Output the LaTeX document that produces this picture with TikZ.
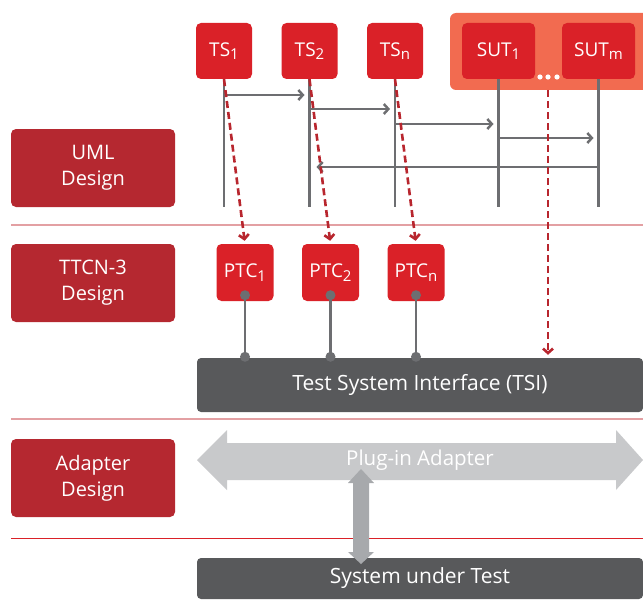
\documentclass[tikz,border=0pt]{standalone}
\usepackage{fontspec}
\setmainfont{Open Sans}
\usetikzlibrary{arrows.meta,calc}
\definecolor{TRed}{HTML}{DA2128}
\definecolor{LRed}{HTML}{B52830}
\definecolor{DRed}{HTML}{B8262E}
\definecolor{SutBg}{HTML}{F26B50}
\definecolor{SepRed}{HTML}{E3A0A3}
\definecolor{LineGray}{HTML}{6D6E71}
\definecolor{BarGray}{HTML}{58595B}
\definecolor{PaleGray}{HTML}{C8C9CB}
\definecolor{MidGray}{HTML}{A7A9AC}
\newcommand{\lowidx}[1]{\raisebox{-0.35ex}{\fontsize{15}{15}\selectfont #1}}
\tikzset{
    comp/.style = {rectangle, rounded corners=5pt, fill=TRed, text=white,
        minimum width=56pt, minimum height=56pt, inner sep=0pt,
        font=\fontsize{19}{22}\selectfont},
    sutcomp/.style = {comp, minimum width=73pt},
    phase/.style = {rectangle, rounded corners=5pt, fill=LRed, text=white,
        minimum width=164pt, minimum height=78pt, align=center,
        font=\fontsize{20}{26}\selectfont},
    bar/.style = {rectangle, rounded corners=4pt, fill=BarGray, text=white,
        minimum width=446pt, inner sep=0pt, font=\fontsize{21}{24}\selectfont},
    life/.style = {draw=LineGray, line width=2.8pt},
    msg/.style = {draw=LineGray, line width=2.5pt, shorten >=5pt,
        -{Straight Barb[length=4.5pt,width=10pt]}},
    map/.style = {draw=DRed, line width=2.6pt, dash pattern=on 7pt off 4pt,
        shorten >=3pt, -{Straight Barb[length=4.5pt,width=10pt]}},
    sep/.style = {draw=SepRed, line width=1.4pt},
    link/.style = {draw=LineGray, line width=2.8pt}
}

\begin{document}
\begin{tikzpicture}[x=1pt,y=-1pt]
    \useasboundingbox (0,0) rectangle (643,610);
    % phases
    \node[phase] (uml) at (93,168) {UML\\Design};
    \node[phase] (ttcn) at (93,283) {TTCN-3\\Design};
    \node[phase] (adapt) at (93,478) {Adapter\\Design};
    \draw[sep] (11,225) -- (643,225);
    \draw[sep] (11,419) -- (643,419);
    \draw[sep, draw=TRed, line width=1pt] (11,538) -- (643,538);
    % test components and SUT
    \fill[SutBg, rounded corners=6pt] (450,13) rectangle (650,90);
    \node[comp] (ts1) at (224,51) {TS\lowidx{1}};
    \node[comp] (ts2) at (309.5,51) {TS\lowidx{2}};
    \node[comp] (tsn) at (395,51) {TS\lowidx{n}};
    \node[sutcomp] (sut1) at (498.5,51) {SUT\lowidx{1}};
    \node[sutcomp] (sutm) at (598.5,51) {SUT\lowidx{m}};
    \foreach \px in {540,548,557} { \fill[white] (\px,77) circle (2.6); }
    \coordinate (dots) at (548,90);
    \foreach \c in {ts1,ts2,tsn,sut1,sutm} { \draw[life] (\c.south) -- (\c.south |- 0,207); }
    % messages
    \draw[msg] (ts1.south |- 0,95) -- (ts2.south |- 0,95);
    \draw[msg] (ts2.south |- 0,109) -- (tsn.south |- 0,109);
    \draw[msg] (tsn.south |- 0,124) -- (sut1.south |- 0,124);
    \draw[msg] (sut1.south |- 0,138) -- (sutm.south |- 0,138);
    \draw[msg, shorten >=7pt] (sutm.south |- 0,167) -- (ts2.south |- 0,167);
    % parallel test components
    \node[comp, minimum width=57pt, minimum height=57pt] (ptc1) at (245,272.5) {PTC\lowidx{1}};
    \node[comp, minimum width=57pt, minimum height=57pt] (ptc2) at (330.5,272.5) {PTC\lowidx{2}};
    \node[comp, minimum width=57pt, minimum height=57pt] (ptcn) at (416,272.5) {PTC\lowidx{n}};
    \node[bar, minimum height=54pt] (tsi) at (420,385) {Test System Interface (TSI)};
    \foreach \c in {ptc1,ptc2,ptcn} {
        \draw[link] ($(\c.south)+(0,-6)$) -- (\c.south |- tsi.north);
        \fill[LineGray] ($(\c.south)+(0,-6)$) circle (5);
        \fill[LineGray] ($(\c.south |- tsi.north)+(0,-1)$) circle (5);
    }
    \draw[map] (ts1.south) -- (ptc1.north);
    \draw[map] (ts2.south) -- (ptc2.north);
    \draw[map] (tsn.south) -- (ptcn.north);
    \draw[map] (dots) -- (dots |- tsi.north);
    % adapter
    \fill[PaleGray] (197,460) -- (227,430) -- (227,443) -- (616,443) -- (616,430)
        -- (643,460) -- (616,490) -- (616,480) -- (227,480) -- (227,490) -- cycle;
    \node[text=white, font=\fontsize{20.5}{24}\selectfont] (plug) at (420,460) {Plug-in Adapter};
    \node[bar, minimum height=41pt] (sut) at (420,578.5) {System under Test};
    \fill[MidGray] (361,469) -- (374,483) -- (369,483) -- (369,552) -- (374,552)
        -- (361,564) -- (348,552) -- (353,552) -- (353,483) -- (348,483) -- cycle;
\end{tikzpicture}
\end{document}
